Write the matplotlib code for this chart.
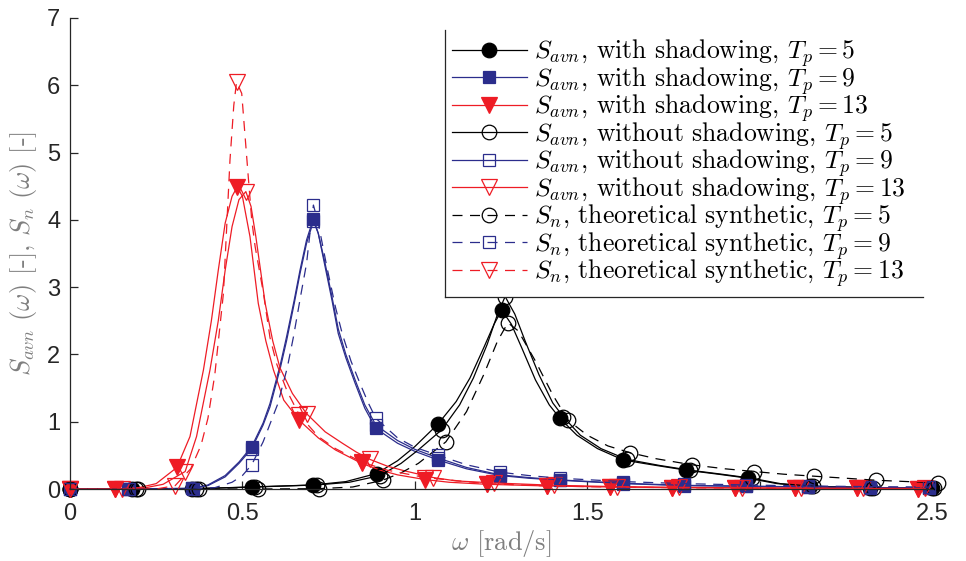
import numpy as np
import matplotlib
matplotlib.use('Agg')
import matplotlib.pyplot as plt
from matplotlib.lines import Line2D

plt.rcParams['mathtext.fontset'] = 'cm'
plt.rcParams['axes.unicode_minus'] = False

# ---------------- data ----------------
# Tp = 5, with shadowing
w_b1 = [0, 0.18, 0.355, 0.527, 0.705, 0.80, 0.889, 0.95, 1.0, 1.068, 1.12, 1.16, 1.2, 1.23, 1.252,
        1.28, 1.31, 1.35, 1.39, 1.421, 1.47, 1.53, 1.605, 1.70, 1.787, 1.88, 1.967, 2.05, 2.145, 2.32, 2.5]
s_b1 = [0, 0, 0.005, 0.03, 0.06, 0.11, 0.23, 0.42, 0.63, 0.97, 1.3, 1.65, 2.1, 2.45, 2.66,
        2.45, 2.1, 1.62, 1.25, 1.05, 0.8, 0.6, 0.43, 0.35, 0.28, 0.22, 0.16, 0.08, 0.04, 0.02, 0.01]
m_b1 = [0, 0.18, 0.355, 0.527, 0.705, 0.889, 1.068, 1.252, 1.421, 1.605, 1.787, 1.967, 2.145, 2.32, 2.5]

# Tp = 9, with shadowing
w_u1 = [0, 0.169, 0.353, 0.40, 0.45, 0.49, 0.527, 0.56, 0.58, 0.61, 0.628, 0.65, 0.667, 0.686, 0.706,
        0.72, 0.74, 0.76, 0.778, 0.80, 0.827, 0.855, 0.887, 0.95, 1.0, 1.068, 1.15, 1.247, 1.33, 1.421,
        1.605, 1.78, 1.96, 2.14, 2.32, 2.49]
s_u1 = [0, 0, 0.01, 0.06, 0.2, 0.4, 0.63, 0.98, 1.27, 1.85, 2.26, 2.8, 3.25, 3.7, 4.02,
        3.8, 3.3, 2.8, 2.31, 1.95, 1.57, 1.2, 0.9, 0.68, 0.56, 0.43, 0.3, 0.2, 0.16, 0.13,
        0.08, 0.05, 0.04, 0.03, 0.02, 0.015]
m_u1 = [0, 0.169, 0.353, 0.527, 0.706, 0.887, 1.068, 1.247, 1.421, 1.605, 1.78, 1.96, 2.14, 2.32, 2.49]

# Tp = 13, with shadowing
w_r1 = [0, 0.13, 0.2, 0.25, 0.31, 0.348, 0.387, 0.41, 0.43, 0.45, 0.47, 0.485, 0.50, 0.522, 0.546,
        0.568, 0.59, 0.62, 0.665, 0.72, 0.77, 0.812, 0.846, 0.9, 0.95, 1.03, 1.1, 1.208, 1.383, 1.566,
        1.745, 1.929, 2.103, 2.282, 2.46]
s_r1 = [0, 0.0, 0.02, 0.08, 0.32, 0.78, 1.77, 2.5, 3.25, 3.95, 4.35, 4.49, 4.35, 3.75, 2.76,
        2.2, 1.77, 1.32, 1.02, 0.76, 0.58, 0.47, 0.38, 0.28, 0.21, 0.14, 0.1, 0.07, 0.045, 0.03,
        0.02, 0.015, 0.01, 0.008, 0.006]
m_r1 = [0, 0.13, 0.31, 0.485, 0.665, 0.846, 1.03, 1.208, 1.383, 1.566, 1.745, 1.929, 2.103, 2.282, 2.46]

# Tp = 5, without shadowing
w_b2 = [0, 0.19, 0.365, 0.537, 0.715, 0.81, 0.899, 0.96, 1.01, 1.078, 1.13, 1.17, 1.21, 1.24, 1.262,
        1.29, 1.32, 1.36, 1.40, 1.431, 1.48, 1.54, 1.615, 1.71, 1.797, 1.89, 1.977, 2.06, 2.155, 2.33, 2.505]
s_b2 = [0, 0, 0.005, 0.03, 0.06, 0.10, 0.2, 0.38, 0.58, 0.88, 1.25, 1.65, 2.15, 2.6, 2.86,
        2.6, 2.2, 1.7, 1.28, 1.07, 0.8, 0.6, 0.44, 0.35, 0.28, 0.22, 0.16, 0.08, 0.04, 0.02, 0.01]
m_b2 = [0, 0.19, 0.365, 0.537, 0.715, 0.899, 1.078, 1.262, 1.431, 1.615, 1.797, 1.977, 2.155, 2.33, 2.505]

# Tp = 9, without shadowing
w_u2 = list(w_u1)
s_u2 = [0, 0, 0.01, 0.05, 0.18, 0.38, 0.6, 0.95, 1.22, 1.8, 2.2, 2.75, 3.2, 3.65, 3.98,
        3.8, 3.35, 2.85, 2.38, 2.0, 1.62, 1.25, 0.95, 0.72, 0.59, 0.46, 0.32, 0.21, 0.17, 0.135,
        0.085, 0.055, 0.042, 0.032, 0.022, 0.016]
m_u2 = list(m_u1)

# Tp = 13, without shadowing
w_r2 = [0, 0.15, 0.22, 0.27, 0.334, 0.367, 0.406, 0.43, 0.45, 0.47, 0.49, 0.51, 0.525, 0.539, 0.566,
        0.588, 0.609, 0.645, 0.686, 0.74, 0.79, 0.83, 0.87, 0.92, 0.97, 1.054, 1.12, 1.23, 1.405, 1.585,
        1.765, 1.95, 2.12, 2.30, 2.48]
s_r2 = [0, 0.0, 0.02, 0.07, 0.26, 0.78, 1.77, 2.5, 3.25, 3.9, 4.3, 4.42, 4.2, 3.75, 2.76,
        2.2, 1.8, 1.42, 1.12, 0.85, 0.68, 0.55, 0.44, 0.34, 0.27, 0.17, 0.12, 0.09, 0.055, 0.035,
        0.025, 0.018, 0.012, 0.01, 0.008]
m_r2 = [0, 0.15, 0.334, 0.51, 0.686, 0.87, 1.054, 1.23, 1.405, 1.585, 1.765, 1.95, 2.12, 2.30, 2.48]

# Tp = 5, theoretical synthetic
w_b3 = [0, 0.198, 0.373, 0.545, 0.723, 0.82, 0.907, 0.96, 1.01, 1.09, 1.15, 1.2, 1.24, 1.27, 1.30,
        1.35, 1.40, 1.445, 1.5, 1.56, 1.624, 1.7, 1.803, 1.9, 1.984, 2.07, 2.159, 2.25, 2.338, 2.43, 2.518]
s_b3 = [0, 0, 0, 0, 0.005, 0.03, 0.13, 0.24, 0.38, 0.70, 1.15, 1.7, 2.2, 2.47, 2.35,
        1.9, 1.4, 1.02, 0.8, 0.64, 0.54, 0.45, 0.36, 0.3, 0.26, 0.22, 0.19, 0.16, 0.13, 0.11, 0.09]
m_b3 = [0, 0.198, 0.373, 0.545, 0.723, 0.907, 1.09, 1.27, 1.445, 1.624, 1.803, 1.984, 2.159, 2.338, 2.518]

# Tp = 9, theoretical synthetic
w_u3 = [0, 0.172, 0.356, 0.42, 0.47, 0.50, 0.527, 0.56, 0.603, 0.63, 0.648, 0.67, 0.686, 0.697, 0.706,
        0.72, 0.745, 0.77, 0.79, 0.815, 0.841, 0.865, 0.887, 0.95, 1.0, 1.068, 1.15, 1.247, 1.33, 1.421,
        1.605, 1.78, 1.96, 2.14, 2.32, 2.49]
s_u3 = [0, 0, 0, 0.02, 0.1, 0.2, 0.36, 0.7, 1.27, 1.8, 2.26, 2.9, 3.35, 3.85, 4.22,
        3.95, 3.3, 2.7, 2.3, 1.9, 1.57, 1.28, 1.05, 0.76, 0.62, 0.5, 0.36, 0.25, 0.2, 0.16,
        0.11, 0.08, 0.06, 0.045, 0.035, 0.03]
m_u3 = [0, 0.172, 0.356, 0.527, 0.706, 0.887, 1.068, 1.247, 1.421, 1.605, 1.78, 1.96, 2.14, 2.32, 2.49]

# Tp = 13, theoretical synthetic
w_r3 = [0, 0.13, 0.25, 0.305, 0.35, 0.38, 0.40, 0.42, 0.445, 0.464, 0.475, 0.483, 0.498, 0.517, 0.527,
        0.537, 0.561, 0.58, 0.6, 0.63, 0.665, 0.72, 0.77, 0.846, 0.92, 1.03, 1.208, 1.383, 1.566,
        1.745, 1.929, 2.103, 2.282, 2.46]
s_r3 = [0, 0, 0, 0.05, 0.3, 0.65, 1.05, 1.7, 2.91, 4.89, 5.7, 6.05, 5.88, 4.64, 4.0,
        3.6, 2.91, 2.25, 1.85, 1.45, 1.1, 0.78, 0.6, 0.4, 0.28, 0.17, 0.08, 0.045, 0.03,
        0.02, 0.015, 0.01, 0.008, 0.006]
m_r3 = [0, 0.13, 0.305, 0.483, 0.665, 0.846, 1.03, 1.208, 1.383, 1.566, 1.745, 1.929, 2.103, 2.282, 2.46]

labels = [
    r'$S_{avn}$, with shadowing, $T_p = 5$',
    r'$S_{avn}$, with shadowing, $T_p = 9$',
    r'$S_{avn}$, with shadowing, $T_p = 13$',
    r'$S_{avn}$, without shadowing, $T_p = 5$',
    r'$S_{avn}$, without shadowing, $T_p = 9$',
    r'$S_{avn}$, without shadowing, $T_p = 13$',
    r'$S_n$, theoretical synthetic, $T_p = 5$',
    r'$S_n$, theoretical synthetic, $T_p = 9$',
    r'$S_n$, theoretical synthetic, $T_p = 13$',
]
xticks = [0, 0.5, 1, 1.5, 2, 2.5]
xticklabels = ['0', '0.5', '1', '1.5', '2', '2.5']
yticks = [0, 1, 2, 3, 4, 5, 6, 7]

# ---------------- styling ----------------
BLACK = '#000000'
BLUE = '#2b2d8c'
RED = '#ee1c25'
AXC = '#262626'
dash = (0, (8, 6))

series = [
    (w_b1, s_b1, m_b1, BLACK, '-', 'o', 'fill'),
    (w_u1, s_u1, m_u1, BLUE, '-', 's', 'fill'),
    (w_r1, s_r1, m_r1, RED, '-', 'v', 'fill'),
    (w_b2, s_b2, m_b2, BLACK, '-', 'o', 'none'),
    (w_u2, s_u2, m_u2, BLUE, '-', 's', 'none'),
    (w_r2, s_r2, m_r2, RED, '-', 'v', 'none'),
    (w_b3, s_b3, m_b3, BLACK, dash, 'o', 'none'),
    (w_u3, s_u3, m_u3, BLUE, dash, 's', 'none'),
    (w_r3, s_r3, m_r3, RED, dash, 'v', 'none'),
]
msize = {'o': 10.5, 's': 9.0, 'v': 11.5}

fig = plt.figure(figsize=(9.66, 5.61), dpi=100)
ax = fig.add_axes([70 / 966, 72 / 561, 862 / 966, 471 / 561])

handles = []
for (w, s, m, c, ls, mk, fill), lab in zip(series, labels):
    w = np.asarray(w, float)
    s = np.asarray(s, float)
    idx = [int(np.argmin(np.abs(w - v))) for v in m]
    ln, = ax.plot(w, s, color=c, linestyle=ls, linewidth=0.9,
                  marker=mk, markersize=msize[mk], markevery=idx,
                  markerfacecolor=(c if fill == 'fill' else 'none'),
                  markeredgecolor=c, markeredgewidth=0.9,
                  clip_on=False, label=lab)
    handles.append(ln)

ax.set_xlim(0, 2.5)
ax.set_ylim(0, 7)
ax.set_xticks(xticks)
ax.set_xticklabels(xticklabels)
ax.set_yticks(yticks)
for sp in ['top', 'right']:
    ax.spines[sp].set_visible(False)
for sp in ['left', 'bottom']:
    ax.spines[sp].set_color(AXC)
    ax.spines[sp].set_linewidth(0.9)
ax.tick_params(direction='in', length=6, width=0.9, color=AXC, labelcolor=AXC)
ax.tick_params(axis='x', pad=10)
ax.tick_params(axis='y', pad=7)
for t in ax.get_xticklabels() + ax.get_yticklabels():
    t.set_fontfamily('Liberation Sans')
    t.set_fontsize(17)

ax.set_xlabel(r'$\omega$ [rad/s]', family='cmr10', fontsize=19, color='#7f7f7f', labelpad=2)
ax.set_ylabel(r'$S_{avn}\ (\omega)$ [-], $S_n\ (\omega)$ [-]', family='cmr10', fontsize=19,
              color='#7f7f7f', labelpad=6)

leg = ax.legend(handles=handles, loc='upper left', bbox_to_anchor=(0.435, 0.974),
                borderaxespad=0, prop={'family': 'cmr10', 'size': 18.5},
                handlelength=2.9, handletextpad=0.27, labelspacing=-0.17,
                borderpad=0.28, fancybox=False, frameon=True)
leg.get_frame().set_facecolor('white')
leg.get_frame().set_edgecolor('none')
leg.get_frame().set_alpha(1)

fig.canvas.draw()
bb = leg.get_window_extent().transformed(fig.transFigure.inverted())
x_end = bb.x1 + 0.011
fig.add_artist(Line2D([bb.x0, bb.x0], [bb.y0, bb.y1], color=AXC, lw=0.9, transform=fig.transFigure))
fig.add_artist(Line2D([bb.x0, x_end], [bb.y0, bb.y0], color=AXC, lw=0.9, transform=fig.transFigure))

fig.savefig('out.png', dpi=100)
